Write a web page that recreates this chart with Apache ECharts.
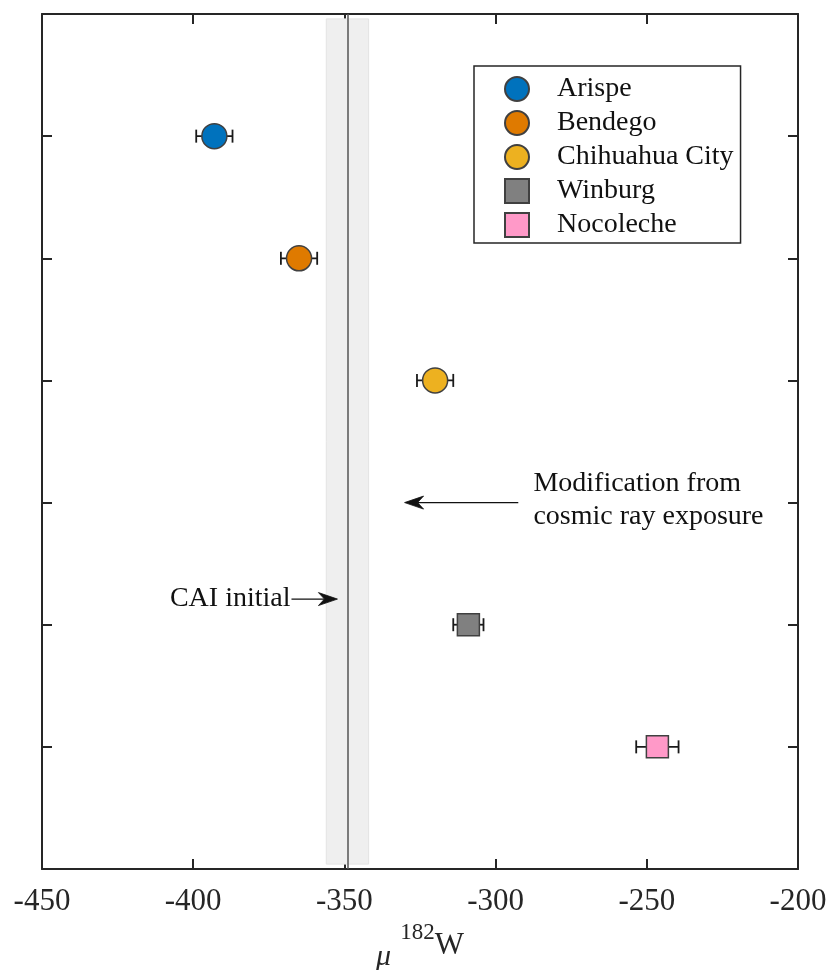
<!DOCTYPE html>
<html>
<head>
<meta charset="utf-8">
<script src="https://cdn.jsdelivr.net/npm/echarts@6/dist/echarts.min.js"></script>
<style>
  html, body { margin: 0; padding: 0; background: #ffffff; overflow: hidden; }
  #chart { width: 830px; height: 970px; }
</style>
</head>
<body>
<div id="chart"></div>
<script>
// μ182W of the iron meteorite samples, one row per sample (top to bottom)
const sampleNames  = ['Arispe', 'Bendego', 'Chihuahua City', 'Winburg', 'Nocoleche'];
const sampleRows   = [1, 2, 3, 5, 6];
const sampleValues = [-393, -365, -320, -309, -246.5];
const sampleErrors = [6, 6, 6, 5, 7];

// CAI initial value and its uncertainty band
const caiInitial = -349;
const caiLow     = -356;
const caiHigh    = -342;

// axis ticks
const xTicks = [-450, -400, -350, -300, -250, -200];
const yRows  = [0, 7];

// annotation anchors (data coordinates): [tail, tip] of each arrow, text anchor
const caiArrow     = [[-367.5, 4.79], [-352.3, 4.79]];
const caiText      = 'CAI initial';
const cosmicArrow  = [[-292.5, 4.0], [-330.1, 4.0]];
const cosmicTextAt = [-287.5, 3.98];
const cosmicText   = ['Modification from', 'cosmic ray exposure'];

const markerColors  = ['#0072BD', '#DF7A00', '#EDB120', '#808080', '#FF99C8'];
const markerSymbols = ['circle', 'circle', 'circle', 'rect', 'rect'];
const markerSizes   = [25, 25, 25, 22, 22];

const FONT = '"Liberation Serif", "Times New Roman", serif';
const INK = '#262626';

const chart = echarts.init(document.getElementById('chart'), null, { renderer: 'canvas' });

const xStep = xTicks[1] - xTicks[0];
const frameAxis = (pos, showLabel) => ({
  type: 'value',
  position: pos,
  min: xTicks[0],
  max: xTicks[xTicks.length - 1],
  interval: xStep,
  axisLine: { show: true, onZero: false, lineStyle: { color: INK, width: 2 } },
  axisTick: { show: true, inside: true, length: 10, lineStyle: { color: INK, width: 2 } },
  axisLabel: showLabel ? {
    show: true, fontFamily: FONT, fontSize: 31, color: '#262626', margin: 17
  } : { show: false },
  splitLine: { show: false }
});

const rowAxis = (pos) => ({
  type: 'value',
  position: pos,
  min: yRows[0],
  max: yRows[1],
  interval: 1,
  inverse: true,
  axisLine: { show: true, onZero: false, lineStyle: { color: INK, width: 2 } },
  axisTick: { show: true, inside: true, length: 10, lineStyle: { color: INK, width: 2 } },
  axisLabel: { show: false },
  splitLine: { show: false }
});

const bottomAxis = frameAxis('bottom', true);
bottomAxis.name = '{mu|μ}   {sup|182}{w|W}';
bottomAxis.nameLocation = 'middle';
bottomAxis.nameGap = 50;
bottomAxis.nameTextStyle = {
  fontFamily: FONT,
  color: '#262626',
  rich: {
    mu:  { fontFamily: FONT, fontStyle: 'italic', fontSize: 30, color: '#262626', padding: [14, 0, 0, 0] },
    sup: { fontFamily: FONT, fontSize: 23, color: '#262626', padding: [0, 0, 33, 0] },
    w:   { fontFamily: FONT, fontSize: 31, color: '#262626', padding: [0, 0, 9, 0] }
  }
};

// error bars: horizontal whisker with end caps
const errorData = sampleNames.map((n, i) => [
  sampleValues[i] - sampleErrors[i], sampleValues[i] + sampleErrors[i], sampleRows[i]
]);

const series = [];

// uncertainty band and CAI initial line
series.push({
  name: 'CAI band',
  type: 'scatter',
  data: [],
  silent: true,
  z: 1,
  markArea: {
    silent: true,
    itemStyle: { color: '#efefef', borderColor: '#e4e4e4', borderWidth: 1 },
    data: [[{ xAxis: caiLow, yAxis: 0.04 }, { xAxis: caiHigh, yAxis: 6.96 }]]
  },
  markLine: {
    silent: true,
    symbol: ['none', 'none'],
    label: { show: false },
    lineStyle: { color: '#555555', width: 1.5, type: 'solid' },
    data: [{ xAxis: caiInitial }]
  }
});

series.push({
  name: 'errors',
  type: 'custom',
  z: 3,
  silent: true,
  data: errorData,
  encode: { x: [0, 1], y: 2 },
  renderItem: function (params, api) {
    const lo = api.value(0), hi = api.value(1), row = api.value(2);
    const a = api.coord([lo, row]);
    const b = api.coord([hi, row]);
    const h = 6.5;
    const st = { stroke: '#1a1a1a', lineWidth: 1.8 };
    return {
      type: 'group',
      children: [
        { type: 'line', shape: { x1: a[0], y1: a[1], x2: b[0], y2: b[1] }, style: st },
        { type: 'line', shape: { x1: a[0], y1: a[1] - h, x2: a[0], y2: a[1] + h }, style: st },
        { type: 'line', shape: { x1: b[0], y1: b[1] - h, x2: b[0], y2: b[1] + h }, style: st }
      ]
    };
  }
});

sampleNames.forEach((name, i) => {
  series.push({
    name: name,
    type: 'scatter',
    z: 5,
    symbol: markerSymbols[i],
    symbolSize: markerSizes[i],
    itemStyle: { color: markerColors[i], borderColor: '#404040', borderWidth: 1.5, opacity: 1 },
    emphasis: { disabled: true },
    data: [[sampleValues[i], sampleRows[i]]]
  });
});

// arrow with a notched head, drawn from tail to tip
function arrowShape(tail, tip) {
  const dx = tip[0] - tail[0], dy = tip[1] - tail[1];
  const len = Math.sqrt(dx * dx + dy * dy) || 1;
  const ux = dx / len, uy = dy / len, nx = -uy, ny = ux;
  const L = 19, W = 6.5, N = 13;
  const back = [tip[0] - ux * L, tip[1] - uy * L];
  const notch = [tip[0] - ux * N, tip[1] - uy * N];
  return {
    line: { x1: tail[0], y1: tail[1], x2: notch[0], y2: notch[1] },
    head: [tip, [back[0] + nx * W, back[1] + ny * W], notch, [back[0] - nx * W, back[1] - ny * W]]
  };
}

// text annotations with arrows
const noteData = [
  [caiArrow[0][0], caiArrow[0][1], caiArrow[1][0], caiArrow[1][1], 0],
  [cosmicArrow[0][0], cosmicArrow[0][1], cosmicArrow[1][0], cosmicArrow[1][1], 1]
];
series.push({
  name: 'notes',
  type: 'custom',
  silent: true,
  z: 6,
  data: noteData,
  encode: { x: [0, 2], y: [1, 3] },
  renderItem: function (params, api) {
    const tail = api.coord([api.value(0), api.value(1)]);
    const tip = api.coord([api.value(2), api.value(3)]);
    const arr = arrowShape(tail, tip);
    const children = [
      { type: 'line', shape: arr.line, style: { stroke: '#111111', lineWidth: 1.3 } },
      { type: 'polygon', shape: { points: arr.head }, style: { fill: '#111111', stroke: '#111111', lineWidth: 0.8 } }
    ];
    const textStyle = { fontFamily: FONT, fontSize: 28, fill: '#111111' };
    if (api.value(4) === 0) {
      children.push({
        type: 'text',
        x: tail[0] - 1, y: tail[1],
        style: Object.assign({ text: caiText, align: 'right', verticalAlign: 'middle' }, textStyle)
      });
    } else {
      const p = api.coord(cosmicTextAt);
      children.push({
        type: 'text',
        x: p[0], y: p[1],
        style: Object.assign({ text: cosmicText.join('\n'), align: 'left', verticalAlign: 'middle', lineHeight: 33 }, textStyle)
      });
    }
    return { type: 'group', children: children };
  }
});

chart.setOption({
  backgroundColor: '#ffffff',
  animation: false,
  grid: { left: 42, right: 32, top: 14, bottom: 101, containLabel: false, outerBoundsMode: 'none' },
  xAxis: [bottomAxis, frameAxis('top', false)],
  yAxis: [rowAxis('left'), rowAxis('right')],
  legend: {
    show: true,
    data: sampleNames.map((n, i) => ({ name: n, icon: markerSymbols[i] === 'rect' ? 'rect' : 'circle' })),
    orient: 'vertical',
    left: 474,
    top: 66,
    padding: [9, 7, 4, 30],
    itemGap: 6,
    itemWidth: 24,
    itemHeight: 24,
    backgroundColor: '#ffffff',
    borderColor: INK,
    borderWidth: 1.5,
    selectedMode: false,
    textStyle: { fontFamily: FONT, fontSize: 28, color: '#111111', padding: [0, 0, 0, 23] }
  },
  series: series
});
</script>
</body>
</html>
